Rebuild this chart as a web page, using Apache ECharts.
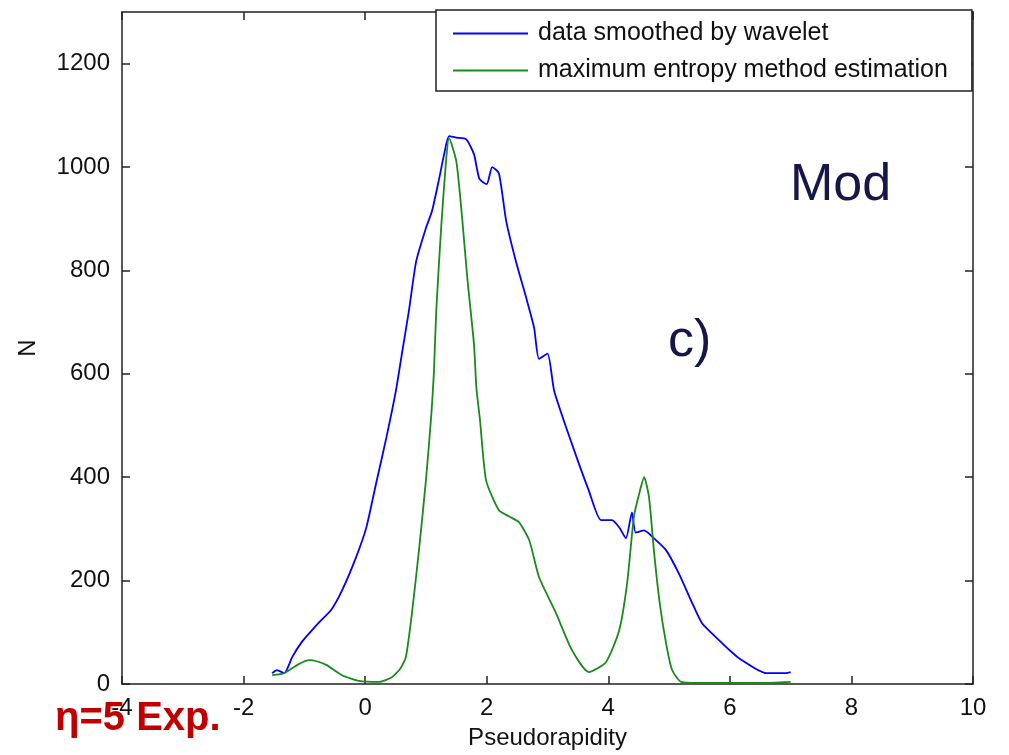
<!DOCTYPE html>
<html>
<head>
<meta charset="utf-8">
<style>
  html, body { margin: 0; padding: 0; background: #fff; }
  #chart { width: 1009px; height: 755px; }
</style>
<script src="https://cdn.jsdelivr.net/npm/echarts@6/dist/echarts.min.js"></script>
</head>
<body>
<div id="chart"></div>
<script>
// Pseudorapidity distribution: wavelet-smoothed data vs. maximum entropy estimate
const seriesNames = ['data smoothed by wavelet', 'maximum entropy method estimation'];

const waveletEta = [-1.53, -1.45, -1.33, -1.2, -1.05, -0.92, -0.75, -0.56, -0.38, -0.15, 0.02, 0.18, 0.35, 0.51, 0.62, 0.72, 0.84, 1.0, 1.1, 1.22, 1.3, 1.38, 1.5, 1.66, 1.79, 1.88, 2.0, 2.09, 2.2, 2.32, 2.48, 2.65, 2.78, 2.86, 3.0, 3.11, 3.4, 3.68, 3.88, 4.06, 4.18, 4.29, 4.39, 4.45, 4.59, 4.75, 4.95, 5.16, 5.36, 5.54, 5.82, 5.99, 6.15, 6.6, 6.92, 7.0];
const waveletN = [21, 27, 21, 52, 80, 98, 120, 143, 181, 245, 303, 388, 477, 570, 650, 722, 818, 882, 915, 979, 1025, 1060, 1057, 1054, 1025, 977, 967, 1000, 988, 896, 818, 747, 689, 629, 639, 567, 465, 374, 317, 317, 303, 282, 332, 293, 297, 282, 259, 214, 162, 118, 85, 66, 50, 21, 21, 23];

const memEta = [-1.53, -1.33, -1.1, -0.92, -0.8, -0.64, -0.38, -0.1, 0.23, 0.44, 0.58, 0.67, 0.77, 0.89, 1.0, 1.09, 1.13, 1.17, 1.25, 1.33, 1.38, 1.5, 1.6, 1.68, 1.79, 1.83, 1.89, 1.99, 2.2, 2.37, 2.53, 2.7, 2.86, 3.14, 3.4, 3.68, 3.96, 4.18, 4.31, 4.42, 4.51, 4.59, 4.67, 4.75, 4.84, 4.95, 5.05, 5.2, 5.5, 6.0, 6.5, 7.0];
const memN = [17, 21, 38, 46, 44, 37, 17, 6, 4, 13, 30, 52, 137, 264, 394, 523, 600, 722, 882, 1011, 1056, 1011, 896, 786, 658, 573, 510, 394, 336, 324, 313, 278, 207, 137, 66, 23, 42, 104, 195, 322, 369, 400, 361, 259, 162, 79, 27, 4, 2, 2, 2, 4];

const xTicks = { min: -4, max: 10, interval: 2 };
const yTicks = { min: 0, max: 1300, interval: 200 };

const FONT = '"Liberation Sans", Arial, sans-serif';
const AXIS_COLOR = '#222';

function zip(xs, ys) { return xs.map((x, i) => [x, ys[i]]); }

const chart = echarts.init(document.getElementById('chart'), null, { renderer: 'canvas' });

// boxed frame: every side gets a line and inward ticks
const frameAxis = {
  axisLine: { show: true, onZero: false, lineStyle: { color: AXIS_COLOR, width: 1.5 } },
  axisTick: { show: true, inside: true, length: 8, lineStyle: { color: AXIS_COLOR, width: 1.5 } },
  splitLine: { show: false }
};
const plainNumber = v => String(v);

chart.setOption({
  animation: false,
  backgroundColor: '#fff',
  textStyle: { fontFamily: FONT },
  grid: { left: 122, right: 36, top: 12, bottom: 71, containLabel: false },
  legend: {
    data: seriesNames,
    orient: 'vertical',
    left: 436,
    top: 10,
    itemWidth: 75,
    itemHeight: 14,
    itemGap: 12,
    padding: [11, 24, 8, 16],
    borderColor: '#222',
    borderWidth: 1.5,
    borderRadius: 0,
    backgroundColor: '#fff',
    itemStyle: { opacity: 0 },
    textStyle: { fontSize: 25, color: '#111', fontFamily: FONT, padding: [0, 0, 0, 5] }
  },
  xAxis: [
    Object.assign({
      type: 'value', position: 'bottom',
      min: xTicks.min, max: xTicks.max, interval: xTicks.interval,
      name: 'Pseudorapidity', nameLocation: 'middle', nameGap: 42,
      nameTextStyle: { fontSize: 24, color: '#111', fontFamily: FONT },
      axisLabel: { fontSize: 24, color: '#111', margin: 12, fontFamily: FONT, formatter: plainNumber }
    }, frameAxis),
    Object.assign({
      type: 'value', position: 'top',
      min: xTicks.min, max: xTicks.max, interval: xTicks.interval,
      axisLabel: { show: false }
    }, frameAxis)
  ],
  yAxis: [
    Object.assign({
      type: 'value', position: 'left',
      min: yTicks.min, max: yTicks.max, interval: yTicks.interval,
      name: 'N', nameLocation: 'middle', nameGap: 82,
      nameTextStyle: { fontSize: 24, color: '#111', fontFamily: FONT },
      axisLabel: { fontSize: 24, color: '#111', margin: 12, showMaxLabel: false, fontFamily: FONT, formatter: plainNumber }
    }, frameAxis),
    Object.assign({
      type: 'value', position: 'right',
      min: yTicks.min, max: yTicks.max, interval: yTicks.interval,
      axisLabel: { show: false }
    }, frameAxis)
  ],
  series: [
    {
      name: seriesNames[0], type: 'line', xAxisIndex: 0, yAxisIndex: 0,
      data: zip(waveletEta, waveletN),
      showSymbol: false, symbol: 'none', smooth: 0.2,
      lineStyle: { color: '#0000ff', width: 1.8 },
      itemStyle: { color: '#0000ff' }
    },
    {
      name: seriesNames[1], type: 'line', xAxisIndex: 0, yAxisIndex: 0,
      data: zip(memEta, memN),
      showSymbol: false, symbol: 'none', smooth: 0.2,
      lineStyle: { color: '#1a8a1a', width: 1.8 },
      itemStyle: { color: '#1a8a1a' }
    }
  ],
  graphic: [
    {
      type: 'text', left: 790, top: 160, z: 10,
      style: { text: 'Mod', fontSize: 52, fontFamily: FONT, fill: '#16164a' }
    },
    {
      type: 'text', left: 668, top: 316, z: 10,
      style: { text: 'c)', fontSize: 52, fontFamily: FONT, fill: '#16164a' }
    },
    {
      type: 'text', left: 55, top: 699, z: 10,
      style: { text: 'η=5 Exp.', fontSize: 40, fontWeight: 'bold', fontFamily: FONT, fill: '#c00000' }
    }
  ]
});
</script>
</body>
</html>
